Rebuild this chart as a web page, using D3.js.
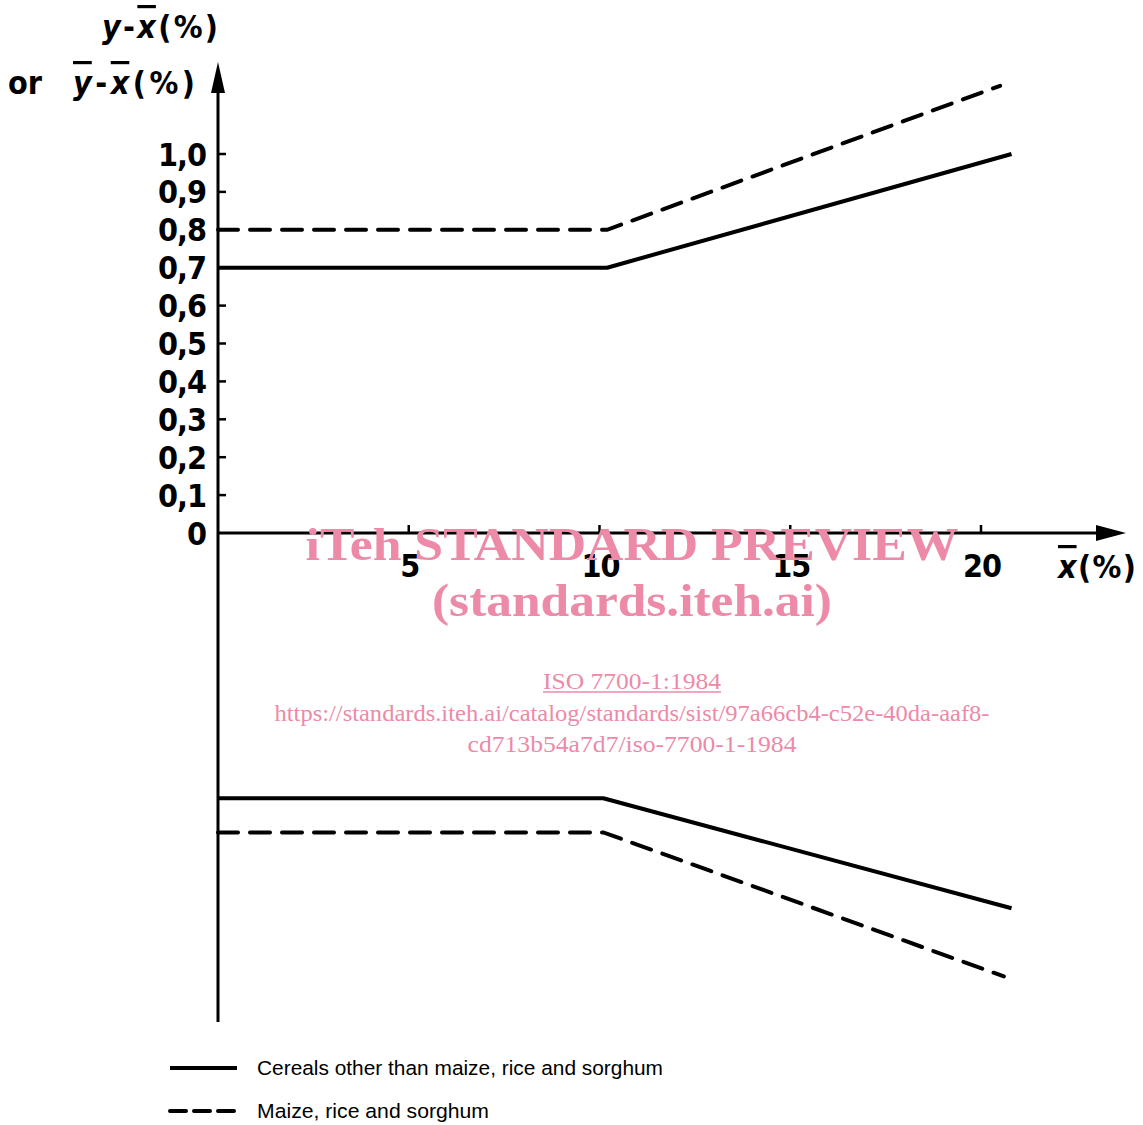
<!DOCTYPE html>
<html><head><meta charset="utf-8">
<script src="https://cdn.jsdelivr.net/npm/d3@7"></script>
<style>
html,body{margin:0;padding:0;background:#fff;}
svg{display:block;}
.ax{font-family:"DejaVu Sans Condensed","DejaVu Sans",sans-serif;}
</style></head>
<body>
<svg id="c" width="1143" height="1125"></svg>
<script>
// ---- data ----
const xTicks = [5, 10, 15, 20];
const yTicks = [0, 0.1, 0.2, 0.3, 0.4, 0.5, 0.6, 0.7, 0.8, 0.9, 1.0];
const yTickLabels = ["0","0,1","0,2","0,3","0,4","0,5","0,6","0,7","0,8","0,9","1,0"];
const cerealsUpper = [[0, 0.70], [10.2, 0.70], [20.8, 1.00]];
const cerealsLower = [[0, -0.70], [10.1, -0.70], [20.8, -0.99]];
const maizeUpper   = [[0, 0.80], [10.2, 0.80], [20.5, 1.18]];
const maizeLower   = [[0, -0.79], [10.1, -0.79], [20.6, -1.17]];
const legendLabels = ["Cereals other than maize, rice and sorghum", "Maize, rice and sorghum"];
const watermark = ["iTeh STANDARD PREVIEW", "(standards.iteh.ai)", "ISO 7700-1:1984",
  "https://standards.iteh.ai/catalog/standards/sist/97a66cb4-c52e-40da-aaf8-",
  "cd713b54a7d7/iso-7700-1-1984"];

const svg = d3.select("#c");
const x = d3.scaleLinear().domain([0, 20]).range([218, 981]);
const y = d3.scaleLinear().domain([0, 1]).range([533, 154]);
const x0 = x(0), y0 = y(0);

// axes lines
svg.append("line").attr("x1", x0).attr("x2", 1100).attr("y1", y0).attr("y2", y0)
  .attr("stroke", "#000").attr("stroke-width", 3);
svg.append("path").attr("d", `M1096,${y0-8} L1126,${y0} L1096,${y0+8} Z`).attr("fill", "#000");
svg.append("line").attr("x1", x0).attr("x2", x0).attr("y1", 88).attr("y2", 1022)
  .attr("stroke", "#000").attr("stroke-width", 3);
svg.append("path").attr("d", `M${x0-7},93 L${x0},62 L${x0+7},93 Z`).attr("fill", "#000");

// y ticks
const g = svg.append("g").attr("class", "ax");
yTicks.forEach((t, i) => {
  if (t > 0) g.append("line").attr("x1", x0).attr("x2", x0 + 8).attr("y1", y(t)).attr("y2", y(t))
    .attr("stroke", "#000").attr("stroke-width", 2.5);
  g.append("text").attr("x", 206).attr("y", y(t)).attr("dy", "0.36em")
    .attr("text-anchor", "end").attr("font-size", 32).attr("font-weight", "bold")
    .attr("letter-spacing", -1).text(yTickLabels[i]);
});
// x ticks
xTicks.forEach(t => {
  g.append("line").attr("x1", x(t)).attr("x2", x(t)).attr("y1", y0).attr("y2", y0 - 8)
    .attr("stroke", "#000").attr("stroke-width", 2.5);
  g.append("text").attr("x", x(t) + 1).attr("y", 577).attr("text-anchor", "middle")
    .attr("font-size", 32).attr("font-weight", "bold").attr("letter-spacing", -1).text(t);
});

// axis titles
function overT(sel, s, over) {
  sel.append("tspan").attr("font-style", "oblique")
    .style("text-decoration", over ? "overline" : "none").text(s);
}
const t1 = g.append("text").attr("x", 102).attr("y", 38).attr("font-size", 32).attr("font-weight", "bold")
  .attr("textLength", 116).attr("lengthAdjust", "spacing");
overT(t1, "y", false); t1.append("tspan").text("-"); overT(t1, "x", true); t1.append("tspan").text("(%)");
g.append("text").attr("x", 8).attr("y", 94).attr("font-size", 32).attr("font-weight", "bold").text("or");
const t2 = g.append("text").attr("x", 73).attr("y", 94).attr("font-size", 32).attr("font-weight", "bold")
  .attr("textLength", 122).attr("lengthAdjust", "spacing");
overT(t2, "y", true); t2.append("tspan").text("-"); overT(t2, "x", true); t2.append("tspan").text("(%)");
const t3 = g.append("text").attr("x", 1058).attr("y", 578).attr("font-size", 32).attr("font-weight", "bold")
  .attr("textLength", 78).attr("lengthAdjust", "spacing");
overT(t3, "x", true); t3.append("tspan").text("(%)");

// data lines
const line = d3.line().x(d => x(d[0])).y(d => y(d[1]));
[cerealsUpper, cerealsLower].forEach(d => svg.append("path").attr("d", line(d))
  .attr("fill", "none").attr("stroke", "#000").attr("stroke-width", 4).attr("stroke-linejoin", "round"));
[maizeUpper, maizeLower].forEach(d => svg.append("path").attr("d", line(d))
  .attr("fill", "none").attr("stroke", "#000").attr("stroke-width", 4)
  .attr("stroke-dasharray", "20,12").attr("stroke-linecap", "round"));

// legend
const leg = svg.append("g");
[[1068, null, 406], [1111, "16,8", 232]].forEach((r, i) => {
  const l = leg.append("line").attr("x1", 170).attr("x2", 237).attr("y1", r[0]).attr("y2", r[0])
    .attr("stroke", "#000").attr("stroke-width", 4);
  if (r[1]) l.attr("stroke-dasharray", r[1]).attr("stroke-linecap", "round");
  leg.append("text").attr("x", 257).attr("y", r[0]).attr("dy", "0.35em")
    .attr("font-family", "'Liberation Sans', Arial, sans-serif").attr("font-size", 20.5)
    .attr("textLength", r[2]).attr("lengthAdjust", "spacingAndGlyphs")
    .text(legendLabels[i]);
});

// watermark
const pink = "#ec8aa7";
const wm = svg.append("g").attr("font-family", "'Liberation Serif','Times New Roman',serif").attr("fill", pink);
const wmSpec = [
  [560, 46, "bold", 653], [616, 46, "bold", 400], [689, 24, "normal", 178],
  [721, 24, "normal", 715], [752, 24, "normal", 329]];
wmSpec.forEach((s, i) => {
  wm.append("text").attr("x", 632).attr("y", s[0]).attr("text-anchor", "middle")
    .attr("font-size", s[1]).attr("font-weight", s[2])
    .attr("textLength", s[3]).attr("lengthAdjust", "spacingAndGlyphs").text(watermark[i]);
});
wm.append("line").attr("x1", 543).attr("x2", 721).attr("y1", 692).attr("y2", 692)
  .attr("stroke", pink).attr("stroke-width", 1.5);
</script>
</body></html>
